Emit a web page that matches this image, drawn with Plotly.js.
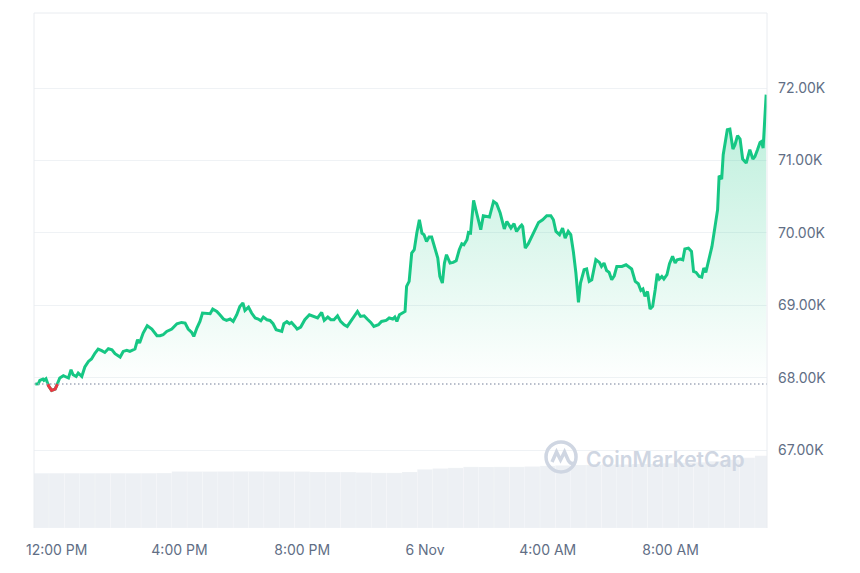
<!DOCTYPE html>
<html>
<head>
<meta charset="utf-8">
<script src="https://cdn.plot.ly/plotly-3.0.1.min.js"></script>
<style>html,body{margin:0;padding:0;background:#fff;}#chart{width:860px;height:573px;}</style>
</head>
<body>
<div id="chart"></div>
<script>
// ---- price series (BTC / USD, 5–6 Nov) ----
const times = [
'2024-11-05 11:18','2024-11-05 11:24','2024-11-05 11:27','2024-11-05 11:33','2024-11-05 11:35','2024-11-05 11:39','2024-11-05 11:44','2024-11-05 11:50','2024-11-05 11:57','2024-11-05 12:01',
'2024-11-05 12:06','2024-11-05 12:13','2024-11-05 12:20','2024-11-05 12:23','2024-11-05 12:28','2024-11-05 12:32','2024-11-05 12:38','2024-11-05 12:42','2024-11-05 12:49','2024-11-05 12:55',
'2024-11-05 13:02','2024-11-05 13:08','2024-11-05 13:15','2024-11-05 13:21','2024-11-05 13:28','2024-11-05 13:34','2024-11-05 13:41','2024-11-05 13:48','2024-11-05 13:54','2024-11-05 14:04',
'2024-11-05 14:10','2024-11-05 14:17','2024-11-05 14:23','2024-11-05 14:33','2024-11-05 14:38','2024-11-05 14:42','2024-11-05 14:49','2024-11-05 14:57','2024-11-05 15:06','2024-11-05 15:16',
'2024-11-05 15:22','2024-11-05 15:28','2024-11-05 15:35','2024-11-05 15:45','2024-11-05 15:55','2024-11-05 16:04','2024-11-05 16:11','2024-11-05 16:17','2024-11-05 16:24','2024-11-05 16:28',
'2024-11-05 16:34','2024-11-05 16:40','2024-11-05 16:45','2024-11-05 16:52','2024-11-05 17:00','2024-11-05 17:05','2024-11-05 17:13','2024-11-05 17:19','2024-11-05 17:26','2024-11-05 17:32',
'2024-11-05 17:39','2024-11-05 17:45','2024-11-05 17:52','2024-11-05 17:58','2024-11-05 18:04','2024-11-05 18:08','2024-11-05 18:15','2024-11-05 18:21','2024-11-05 18:28','2024-11-05 18:34',
'2024-11-05 18:39','2024-11-05 18:44','2024-11-05 18:51','2024-11-05 18:57','2024-11-05 19:03','2024-11-05 19:09','2024-11-05 19:15','2024-11-05 19:20','2024-11-05 19:24','2024-11-05 19:30',
'2024-11-05 19:35','2024-11-05 19:39','2024-11-05 19:46','2024-11-05 19:50','2024-11-05 19:57','2024-11-05 20:05','2024-11-05 20:14','2024-11-05 20:22','2024-11-05 20:30','2024-11-05 20:38',
'2024-11-05 20:43','2024-11-05 20:50','2024-11-05 20:56','2024-11-05 21:02','2024-11-05 21:09','2024-11-05 21:15','2024-11-05 21:22','2024-11-05 21:28','2024-11-05 21:35','2024-11-05 21:41',
'2024-11-05 21:48','2024-11-05 21:54','2024-11-05 22:01','2024-11-05 22:07','2024-11-05 22:14','2024-11-05 22:20','2024-11-05 22:29','2024-11-05 22:35','2024-11-05 22:44','2024-11-05 22:50',
'2024-11-05 22:57','2024-11-05 23:01','2024-11-05 23:05','2024-11-05 23:10','2024-11-05 23:16','2024-11-05 23:21','2024-11-05 23:24','2024-11-05 23:29','2024-11-05 23:34','2024-11-05 23:39',
'2024-11-05 23:44','2024-11-05 23:49','2024-11-05 23:54','2024-11-05 23:58','2024-11-06 00:03','2024-11-06 00:08','2024-11-06 00:13','2024-11-06 00:20','2024-11-06 00:25','2024-11-06 00:29',
'2024-11-06 00:34','2024-11-06 00:38','2024-11-06 00:42','2024-11-06 00:49','2024-11-06 00:55','2024-11-06 01:01','2024-11-06 01:07','2024-11-06 01:12','2024-11-06 01:16','2024-11-06 01:22',
'2024-11-06 01:25','2024-11-06 01:29','2024-11-06 01:35','2024-11-06 01:41','2024-11-06 01:49','2024-11-06 01:54','2024-11-06 02:01','2024-11-06 02:06','2024-11-06 02:14','2024-11-06 02:20',
'2024-11-06 02:27','2024-11-06 02:35','2024-11-06 02:40','2024-11-06 02:48','2024-11-06 02:54','2024-11-06 02:59','2024-11-06 03:06','2024-11-06 03:09','2024-11-06 03:11','2024-11-06 03:16',
'2024-11-06 03:22','2024-11-06 03:29','2024-11-06 03:35','2024-11-06 03:42','2024-11-06 03:50','2024-11-06 03:58','2024-11-06 04:06','2024-11-06 04:11','2024-11-06 04:16','2024-11-06 04:23',
'2024-11-06 04:29','2024-11-06 04:34','2024-11-06 04:40','2024-11-06 04:45','2024-11-06 04:50','2024-11-06 04:55','2024-11-06 05:00','2024-11-06 05:04','2024-11-06 05:11','2024-11-06 05:16',
'2024-11-06 05:21','2024-11-06 05:26','2024-11-06 05:34','2024-11-06 05:41','2024-11-06 05:45','2024-11-06 05:50','2024-11-06 05:55','2024-11-06 06:00','2024-11-06 06:05','2024-11-06 06:10',
'2024-11-06 06:15','2024-11-06 06:25','2024-11-06 06:33','2024-11-06 06:39','2024-11-06 06:44','2024-11-06 06:51','2024-11-06 06:57','2024-11-06 07:02','2024-11-06 07:06','2024-11-06 07:10',
'2024-11-06 07:15','2024-11-06 07:20','2024-11-06 07:25','2024-11-06 07:30','2024-11-06 07:34','2024-11-06 07:38','2024-11-06 07:43','2024-11-06 07:47','2024-11-06 07:53','2024-11-06 07:58',
'2024-11-06 08:04','2024-11-06 08:09','2024-11-06 08:13','2024-11-06 08:19','2024-11-06 08:24','2024-11-06 08:28','2024-11-06 08:35','2024-11-06 08:41','2024-11-06 08:45','2024-11-06 08:50',
'2024-11-06 08:56','2024-11-06 09:01','2024-11-06 09:05','2024-11-06 09:09','2024-11-06 09:14','2024-11-06 09:21','2024-11-06 09:27','2024-11-06 09:32','2024-11-06 09:35','2024-11-06 09:40',
'2024-11-06 09:43','2024-11-06 09:47','2024-11-06 09:51','2024-11-06 09:56','2024-11-06 10:02','2024-11-06 10:06','2024-11-06 10:11','2024-11-06 10:16','2024-11-06 10:21','2024-11-06 10:28',
'2024-11-06 10:32','2024-11-06 10:35','2024-11-06 10:41','2024-11-06 10:45','2024-11-06 10:50','2024-11-06 10:55','2024-11-06 10:58','2024-11-06 11:01','2024-11-06 11:07'
];
const prices = [
67915,67920,67966,67985,67966,67989,67893,67828,67847,67906,
67999,68031,68013,67999,68113,68044,68021,68068,68021,68151,
68228,68261,68344,68399,68376,68352,68403,68389,68334,68289,
68366,68380,68366,68399,68527,68482,68620,68720,68675,68582,
68582,68596,68642,68675,68748,68766,68758,68675,68628,68573,
68689,68780,68896,68887,68887,68951,68918,68872,68813,68794,
68813,68780,68872,68987,69034,68932,68978,68896,68827,68813,
68789,68840,68803,68794,68748,68665,68656,68642,68748,68776,
68748,68766,68711,68675,68702,68803,68872,68849,68827,68904,
68794,68840,68803,68803,68858,68780,68734,68711,68780,68840,
68918,68849,68858,68813,68766,68711,68734,68780,68794,68827,
68813,68840,68780,68872,68896,68918,69263,69332,69723,69769,
69999,70183,69999,69976,69884,69944,69944,69792,69654,69401,
69310,69585,69700,69585,69594,69617,69769,69852,69838,69907,
70008,69999,70449,70275,70045,70238,70228,70220,70435,70404,
70275,70055,70159,70068,70128,70021,70090,70110,70090,69792,
69852,69962,70035,70146,70183,70238,70238,70183,70021,69976,
70068,69930,70021,69976,69746,69448,69042,69310,69493,69503,
69332,69355,69631,69594,69539,69585,69483,69456,69355,69410,
69539,69539,69562,69530,69503,69332,69300,69207,69227,69125,
69194,68951,68987,69217,69438,69365,69401,69365,69424,69576,
69677,69585,69631,69641,69631,69779,69792,69746,69470,69456,
69401,69392,69517,69456,69608,69815,70090,70321,70790,70744,
71080,71287,71425,71434,71158,71218,71342,71296,71020,70965,
71056,71149,71020,71056,71149,71249,71263,71172,71908
];

// ---- volume bars (24h volume, billions USD, 30-minute bars) ----
const volTimes = [
'2024-11-05 11:30','2024-11-05 12:00','2024-11-05 12:30','2024-11-05 13:00','2024-11-05 13:30','2024-11-05 14:00','2024-11-05 14:30','2024-11-05 15:00',
'2024-11-05 15:30','2024-11-05 16:00','2024-11-05 16:30','2024-11-05 17:00','2024-11-05 17:30','2024-11-05 18:00','2024-11-05 18:30','2024-11-05 19:00',
'2024-11-05 19:30','2024-11-05 20:00','2024-11-05 20:30','2024-11-05 21:00','2024-11-05 21:30','2024-11-05 22:00','2024-11-05 22:30','2024-11-05 23:00',
'2024-11-05 23:30','2024-11-06 00:00','2024-11-06 00:30','2024-11-06 01:00','2024-11-06 01:30','2024-11-06 02:00','2024-11-06 02:30','2024-11-06 03:00',
'2024-11-06 03:30','2024-11-06 04:00','2024-11-06 04:30','2024-11-06 05:00','2024-11-06 05:30','2024-11-06 06:00','2024-11-06 06:30','2024-11-06 07:00',
'2024-11-06 07:30','2024-11-06 08:00','2024-11-06 08:30','2024-11-06 09:00','2024-11-06 09:30','2024-11-06 10:00','2024-11-06 10:30','2024-11-06 11:00'
];
const volumes = [
32.8,32.8,32.8,32.8,32.8,32.8,32.8,32.8,
32.9,33.8,33.8,33.8,33.8,33.9,33.9,33.9,
33.8,33.8,33.6,33.5,33.5,33.3,33.0,33.0,
33.6,35.1,35.7,36.0,36.6,36.6,36.6,36.6,
36.9,37.2,37.5,37.8,37.8,38.1,38.1,38.4,
38.4,38.7,39.0,39.3,39.9,40.8,42.0,43.2
];

// ---- axis ticks ----
const xTickVals = ['2024-11-05 12:00','2024-11-05 16:00','2024-11-05 20:00','2024-11-06 00:00','2024-11-06 04:00','2024-11-06 08:00'];
const xTickText = ['12:00 PM','4:00 PM','8:00 PM','6 Nov','4:00 AM','8:00 AM'];
const yTickVals = [67000,68000,69000,70000,71000,72000];
const yTickText = ['67.00K','68.00K','69.00K','70.00K','71.00K','72.00K'];

const base = prices[0];
const GREEN = '#16c784', RED = '#ea3943';
const TXT = '#616e85', GRID = '#eff2f5';
const FONT = 'Inter, "Noto Sans", Arial, sans-serif';

// red segments (portions of the line below the opening price)
function toMs(s){ return Date.parse(s.replace(' ','T') + ':00Z'); }
const xs = times.map(toMs);
const rx = [], ry = [];
for (let i = 0; i < prices.length - 1; i++) {
  const a = prices[i] - base, b = prices[i+1] - base;
  if (a < 0 && i === 0) { rx.push(xs[0]); ry.push(prices[0]); }
  if (a >= 0 && b < 0) {
    const t = a / (a - b);
    rx.push(xs[i] + t * (xs[i+1] - xs[i])); ry.push(base);
    rx.push(xs[i+1]); ry.push(prices[i+1]);
  } else if (a < 0 && b < 0) {
    rx.push(xs[i+1]); ry.push(prices[i+1]);
  } else if (a < 0 && b >= 0) {
    const t = a / (a - b);
    rx.push(xs[i] + t * (xs[i+1] - xs[i])); ry.push(base);
    rx.push(null); ry.push(null);
  }
}

const traces = [
  { type:'bar', x: volTimes, y: volumes, yaxis:'y2', width: 1800000,
    marker:{ color:'#edf0f4', line:{ width:0.5, color:'rgba(255,255,255,0.35)' } },
    hoverinfo:'skip', showlegend:false },
  { type:'scatter', mode:'lines', x:[times[0], times[times.length-1]], y:[base, base],
    line:{ width:0, color:'rgba(0,0,0,0)' }, hoverinfo:'skip', showlegend:false },
  { type:'scatter', mode:'lines', x: times, y: prices, fill:'tonexty',
    fillgradient:{ type:'vertical', start: base, stop: Math.max(...prices),
      colorscale:[[0,'rgba(22,199,132,0.0)'],[1,'rgba(22,199,132,0.3)']] },
    line:{ color: GREEN, width: 3, shape:'linear' }, showlegend:false },
  { type:'scatter', mode:'lines', x: rx, y: ry, line:{ color: RED, width: 3 },
    connectgaps:false, showlegend:false }
];

const layout = {
  width: 860, height: 573,
  margin: { l: 34, r: 93, t: 13, b: 45, pad: 0 },
  paper_bgcolor: '#ffffff', plot_bgcolor: '#ffffff',
  font: { family: FONT, color: TXT, size: 14 },
  showlegend: false,
  xaxis: {
    type: 'date', range: ['2024-11-05 11:15:36', '2024-11-06 11:08:36'],
    tickvals: xTickVals, ticktext: xTickText, showgrid: false, zeroline: false,
    showline: false, ticks: '', ticklabelstandoff: 12,
    tickfont: { family: FONT, size: 14, color: TXT }
  },
  yaxis: {
    side: 'right', range: [65930, 73035], tickvals: yTickVals, ticktext: yTickText,
    showgrid: true, gridcolor: GRID, gridwidth: 1, zeroline: false, showline: false,
    ticks: '', ticklabelstandoff: 10, tickfont: { family: FONT, size: 14, color: TXT }
  },
  yaxis2: { overlaying: 'y', side: 'right', range: [0, 308.4], visible: false, showgrid: false, zeroline: false },
  bargap: 0,
  shapes: [
    { type:'line', xref:'paper', yref:'y', x0:0, x1:1, y0:base, y1:base,
      line:{ color:'#a1a9ba', width:1.5, dash:'1.5px,2.5px' }, layer:'above' },
    { type:'line', xref:'paper', yref:'paper', x0:0, x1:1, y0:1, y1:1, line:{ color:'#e9ecf0', width:1 } },
    { type:'line', xref:'paper', yref:'paper', x0:0, x1:0, y0:0, y1:1, line:{ color:'#e9ecf0', width:1 } },
    { type:'line', xref:'paper', yref:'paper', x0:1, x1:1, y0:0, y1:1, line:{ color:'#e9ecf0', width:1 } },
    { type:'circle', xref:'paper', yref:'paper', xsizemode:'pixel', ysizemode:'pixel',
      xanchor:0.719, yanchor:0.138, x0:-15, x1:15, y0:-15, y1:15,
      line:{ color:'#cfd6e2', width:3.5 }, layer:'above' },
    { type:'path', xref:'paper', yref:'paper', xsizemode:'pixel', ysizemode:'pixel',
      xanchor:0.719, yanchor:0.138,
      path:'M -9,-5 L -4.5,5 L -0.5,-3 L 3.5,5 L 7.5,-4 Q 10,-8 14,-6',
      line:{ color:'#cfd6e2', width:3.5 }, layer:'above' }
  ],
  annotations: [
    { xref:'paper', yref:'paper', x:0.8615, y:0.133, xanchor:'center', yanchor:'middle',
      text:'CoinMarketCap', showarrow:false,
      font:{ family: FONT, size: 21, color:'#cfd6e2', weight: 600 } }
  ]
};

Plotly.newPlot('chart', traces, layout, { staticPlot: true, displayModeBar: false });
</script>
</body>
</html>
